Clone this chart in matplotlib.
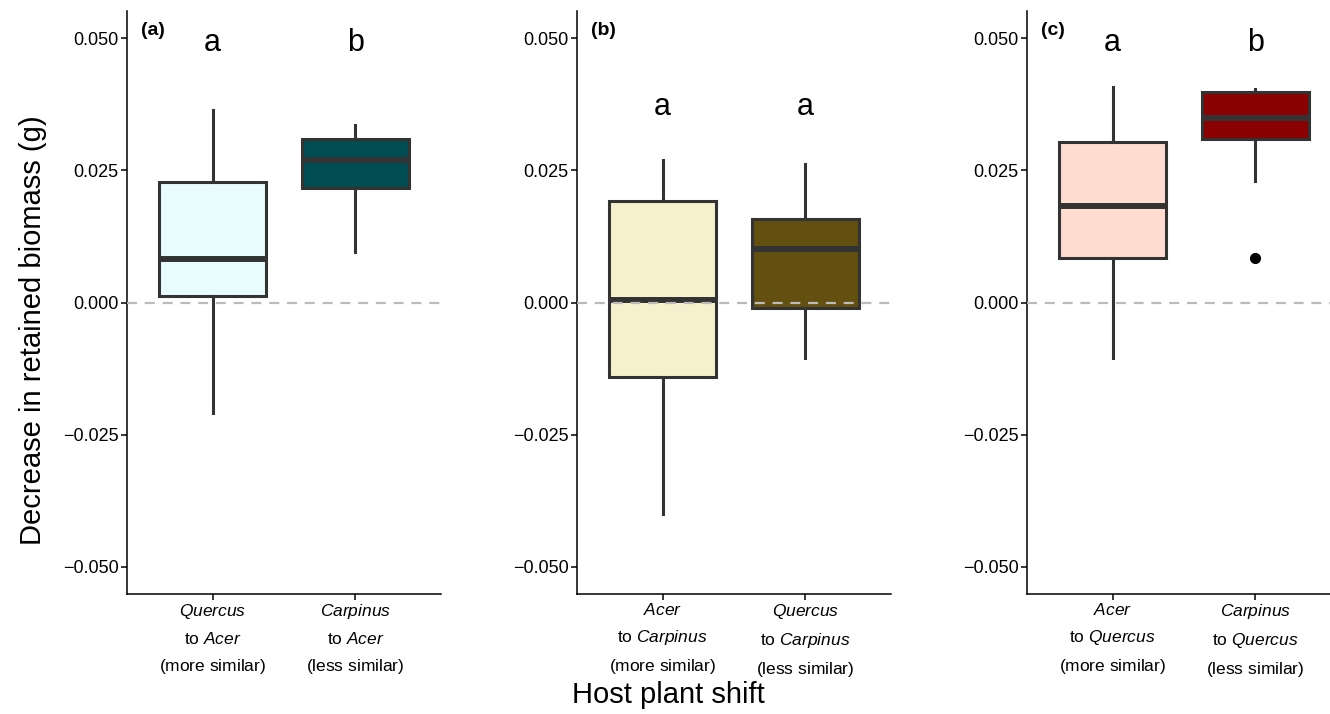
import numpy as np
import matplotlib.pyplot as plt

plt.rcParams['font.family'] = ['Liberation Sans', 'DejaVu Sans']
plt.rcParams['mathtext.fontset'] = 'custom'
plt.rcParams['mathtext.rm'] = 'Liberation Sans'
plt.rcParams['mathtext.it'] = 'Liberation Sans:italic'

# data (g)
panels = ['(a)', '(b)', '(c)']
tick_labels = [
    ['$\\mathit{Quercus}$\n$\\mathrm{to}\\ \\mathit{Acer}$\n$\\mathrm{(more\\ similar)}$',
     '$\\mathit{Carpinus}$\n$\\mathrm{to}\\ \\mathit{Acer}$\n$\\mathrm{(less\\ similar)}$'],
    ['$\\mathit{Acer}$\n$\\mathrm{to}\\ \\mathit{Carpinus}$\n$\\mathrm{(more\\ similar)}$',
     '$\\mathit{Quercus}$\n$\\mathrm{to}\\ \\mathit{Carpinus}$\n$\\mathrm{(less\\ similar)}$'],
    ['$\\mathit{Acer}$\n$\\mathrm{to}\\ \\mathit{Quercus}$\n$\\mathrm{(more\\ similar)}$',
     '$\\mathit{Carpinus}$\n$\\mathrm{to}\\ \\mathit{Quercus}$\n$\\mathrm{(less\\ similar)}$'],
]
whis_low = [[-0.0210, 0.0095], [-0.0400, -0.0106], [-0.0106, 0.0231]]
q1 = [[0.0013, 0.0216], [-0.0142, -0.0011], [0.0085, 0.0309]]
med = [[0.0083, 0.0269], [0.0004, 0.0102], [0.0182, 0.0350]]
q3 = [[0.0229, 0.0309], [0.0193, 0.0159], [0.0303, 0.0398]]
whis_high = [[0.0364, 0.0337], [0.0269, 0.0263], [0.0409, 0.0405]]
outliers = [[[], []], [[], []], [[], [0.0085]]]
letters = [['a', 'b'], ['a', 'a'], ['a', 'b']]
letter_y = [0.0477, 0.0355, 0.0477]
fills = [['#E8FBFD', '#004D53'], ['#F7F0CC', '#634F10'], ['#FEDCCF', '#8B0000']]

yticks = [-0.050, -0.025, 0.0, 0.025, 0.050]
ytick_labels = ['\u22120.050', '\u22120.025', '0.000', '0.025', '0.050']

fig = plt.figure(figsize=(13.3, 7.14), dpi=100)
edge = '#333333'
lefts = [127, 577, 1027]

for i in range(3):
    ax = fig.add_axes([lefts[i] / 1330, 1 - 594 / 714, 314 / 1330, 583 / 714])
    stats = []
    for j in range(2):
        stats.append(dict(whislo=whis_low[i][j], q1=q1[i][j], med=med[i][j],
                          q3=q3[i][j], whishi=whis_high[i][j], fliers=outliers[i][j]))
    bp = ax.bxp(stats, positions=[1, 2], widths=0.75, patch_artist=True, showcaps=False,
                boxprops=dict(edgecolor=edge, linewidth=2.2),
                medianprops=dict(color=edge, linewidth=4.3, solid_capstyle='butt'),
                whiskerprops=dict(color=edge, linewidth=2.2),
                flierprops=dict(marker='o', markerfacecolor='black', markeredgecolor='black',
                                markersize=7))
    for j, patch in enumerate(bp['boxes']):
        patch.set_facecolor(fills[i][j])
    ax.axhline(0, color='#BBBBBB', linestyle=(0, (4.5, 3.5)), linewidth=1.6, zorder=10)
    for j in range(2):
        ax.text(j + 1, letter_y[i], letters[i][j], ha='center', va='baseline', fontsize=22)
    ax.text(0.5, 0.0515, panels[i], ha='left', va='center', fontsize=14, fontweight='bold')
    ax.set_xlim(0.4, 2.6)
    ax.set_ylim(-0.0552, 0.0552)
    ax.set_yticks(yticks)
    ax.set_yticklabels(ytick_labels, fontsize=13)
    ax.set_xticks([1, 2])
    ax.set_xticklabels(tick_labels[i], linespacing=1.72, fontsize=12.5)
    ax.tick_params(length=4, width=1.1, color='black', labelcolor='black', pad=2)
    ax.spines['top'].set_visible(False)
    ax.spines['right'].set_visible(False)
    ax.spines['left'].set_linewidth(1.1)
    ax.spines['bottom'].set_linewidth(1.1)

fig.text(33 / 1330, 1 - 330 / 714, 'Decrease in retained biomass (g)', rotation=90,
         ha='center', va='center', fontsize=21)
fig.text(668 / 1330, 1 - 695 / 714, 'Host plant shift', ha='center', va='center', fontsize=21)

fig.savefig('out.png', dpi=100)
